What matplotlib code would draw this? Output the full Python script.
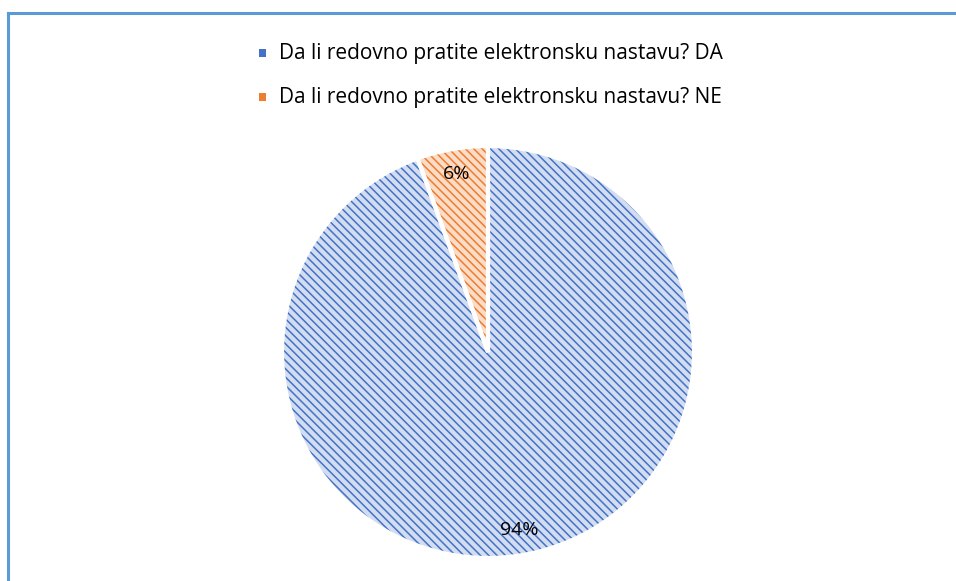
import matplotlib.pyplot as plt
from matplotlib.lines import Line2D
from matplotlib.patches import Rectangle

plt.rcParams['font.family'] = ['Open Sans', 'DejaVu Sans']
plt.rcParams['hatch.linewidth'] = 1.1

# podaci
labels = ["Da li redovno pratite elektronsku nastavu? DA",
          "Da li redovno pratite elektronsku nastavu? NE"]
counts = [102, 6]
line_colors = ["#4472c4", "#ed7d31"]
fill_colors = ["#d3ddf1", "#fbdcc6"]

fig = plt.figure(figsize=(9.56, 5.81), dpi=100)

# okvir (samo lijeva i gornja ivica su vidljive)
fig.add_artist(Line2D([8 / 956, 8 / 956], [0, 1 - 13 / 581], color="#5b9bd5", lw=2.2))
fig.add_artist(Line2D([8 / 956, 1], [1 - 13 / 581, 1 - 13 / 581], color="#5b9bd5", lw=2.2))

r_px = 206
cx, cy = 488, 352
ax = fig.add_axes([(cx - r_px) / 956, (581 - cy - r_px) / 581, 2 * r_px / 956, 2 * r_px / 581])

# prvo šrafura
wedges, _ = ax.pie(counts, startangle=90, counterclock=False, radius=1,
                   colors=fill_colors, wedgeprops=dict(linewidth=0))
for w, lc in zip(wedges, line_colors):
    w.set_hatch("\\\\\\\\")
    w.set_edgecolor(lc)
    w.set_linewidth(0)

# bijele ivice i procenti
wedges2, _, autotexts = ax.pie(counts, startangle=90, counterclock=False, radius=1,
                               autopct=lambda p: f"{p:.0f}%", pctdistance=0.875,
                               wedgeprops=dict(fill=False, edgecolor="white", linewidth=3),
                               textprops=dict(fontsize=14, color="#000000"))
ax.set_xlim(-1, 1)
ax.set_ylim(-1, 1)
ax.set_aspect("equal")

# legenda
for i, (lab, lc) in enumerate(zip(labels, line_colors)):
    y = 1 - (53 + 44 * i) / 581
    fig.add_artist(Rectangle((259 / 956, y - 3.5 / 581), 7 / 956, 7 / 581,
                             transform=fig.transFigure, facecolor=lc, edgecolor="none"))
    fig.text(279 / 956, y, lab, fontsize=15, va="center", ha="left", color="#000000")

fig.savefig("out.png", dpi=100)
